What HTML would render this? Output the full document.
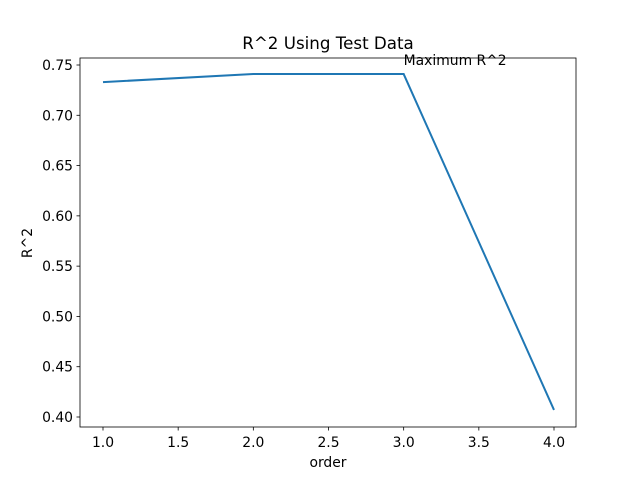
<!DOCTYPE html>
<html><head><meta charset="utf-8"><style>
body{margin:0;background:#fff;}
svg text{font-family:"DejaVu Sans","Liberation Sans",sans-serif;fill:#000;}
</style></head><body>
<svg id="chart" width="640" height="480">
<rect width="640" height="480" fill="#fff"/>
<g id="g"></g>
</svg>
<script>
const orders=[1,2,3,4];
const r2=[0.733,0.741,0.741,0.407];
const yTicks=[0.40,0.45,0.50,0.55,0.60,0.65,0.70,0.75];
const xTicks=[1.0,1.5,2.0,2.5,3.0,3.5,4.0];
const L=80,R=576,T=58,B=427;
function sx(v){return 103+(v-1)*(554-103)/3;}
function sy(v){return 417-(v-0.40)*(417-65)/0.35;}
const g=document.getElementById('g');
const ns='http://www.w3.org/2000/svg';
function mk(t,a,txt){const e=document.createElementNS(ns,t);for(const k in a)e.setAttribute(k,a[k]);if(txt!=null)e.textContent=txt;g.appendChild(e);return e;}
let e;
xTicks.forEach(v=>{
 e=mk('line',{x1:sx(v),x2:sx(v),y1:B,y2:B+3.5,stroke:'#000','stroke-width':0.8});
 
 
 e=mk('text',{x:sx(v),y:B+20,'text-anchor':'middle','font-size':13.9},v.toFixed(1));
 
 
});
yTicks.forEach(v=>{
 e=mk('line',{x1:L-3.5,x2:L,y1:sy(v),y2:sy(v),stroke:'#000','stroke-width':0.8});
 
 
 e=mk('text',{x:L-7,y:sy(v)+5,'text-anchor':'end','font-size':13.9},v.toFixed(2));
 
 
});
e=mk('polyline',{points:orders.map((o,i)=>sx(o)+','+sy(r2[i])).join(' '),fill:'none',stroke:'#1f77b4','stroke-width':2});


e=mk('rect',{x:L,y:T,width:R-L,height:B-T,fill:'none',stroke:'#000','stroke-width':0.8});


e=mk('text',{x:sx(3),y:sy(0.741)-9,'font-size':13.9},'Maximum R^2');


e=mk('text',{x:328,y:49,'text-anchor':'middle','font-size':16.7},'R^2 Using Test Data');


e=mk('text',{x:328,y:467,'text-anchor':'middle','font-size':13.9},'order');


e=mk('text',{x:32,y:243,'text-anchor':'middle','font-size':13.9,transform:'rotate(-90 32 243)'},'R^2');


</script>
</body></html>
